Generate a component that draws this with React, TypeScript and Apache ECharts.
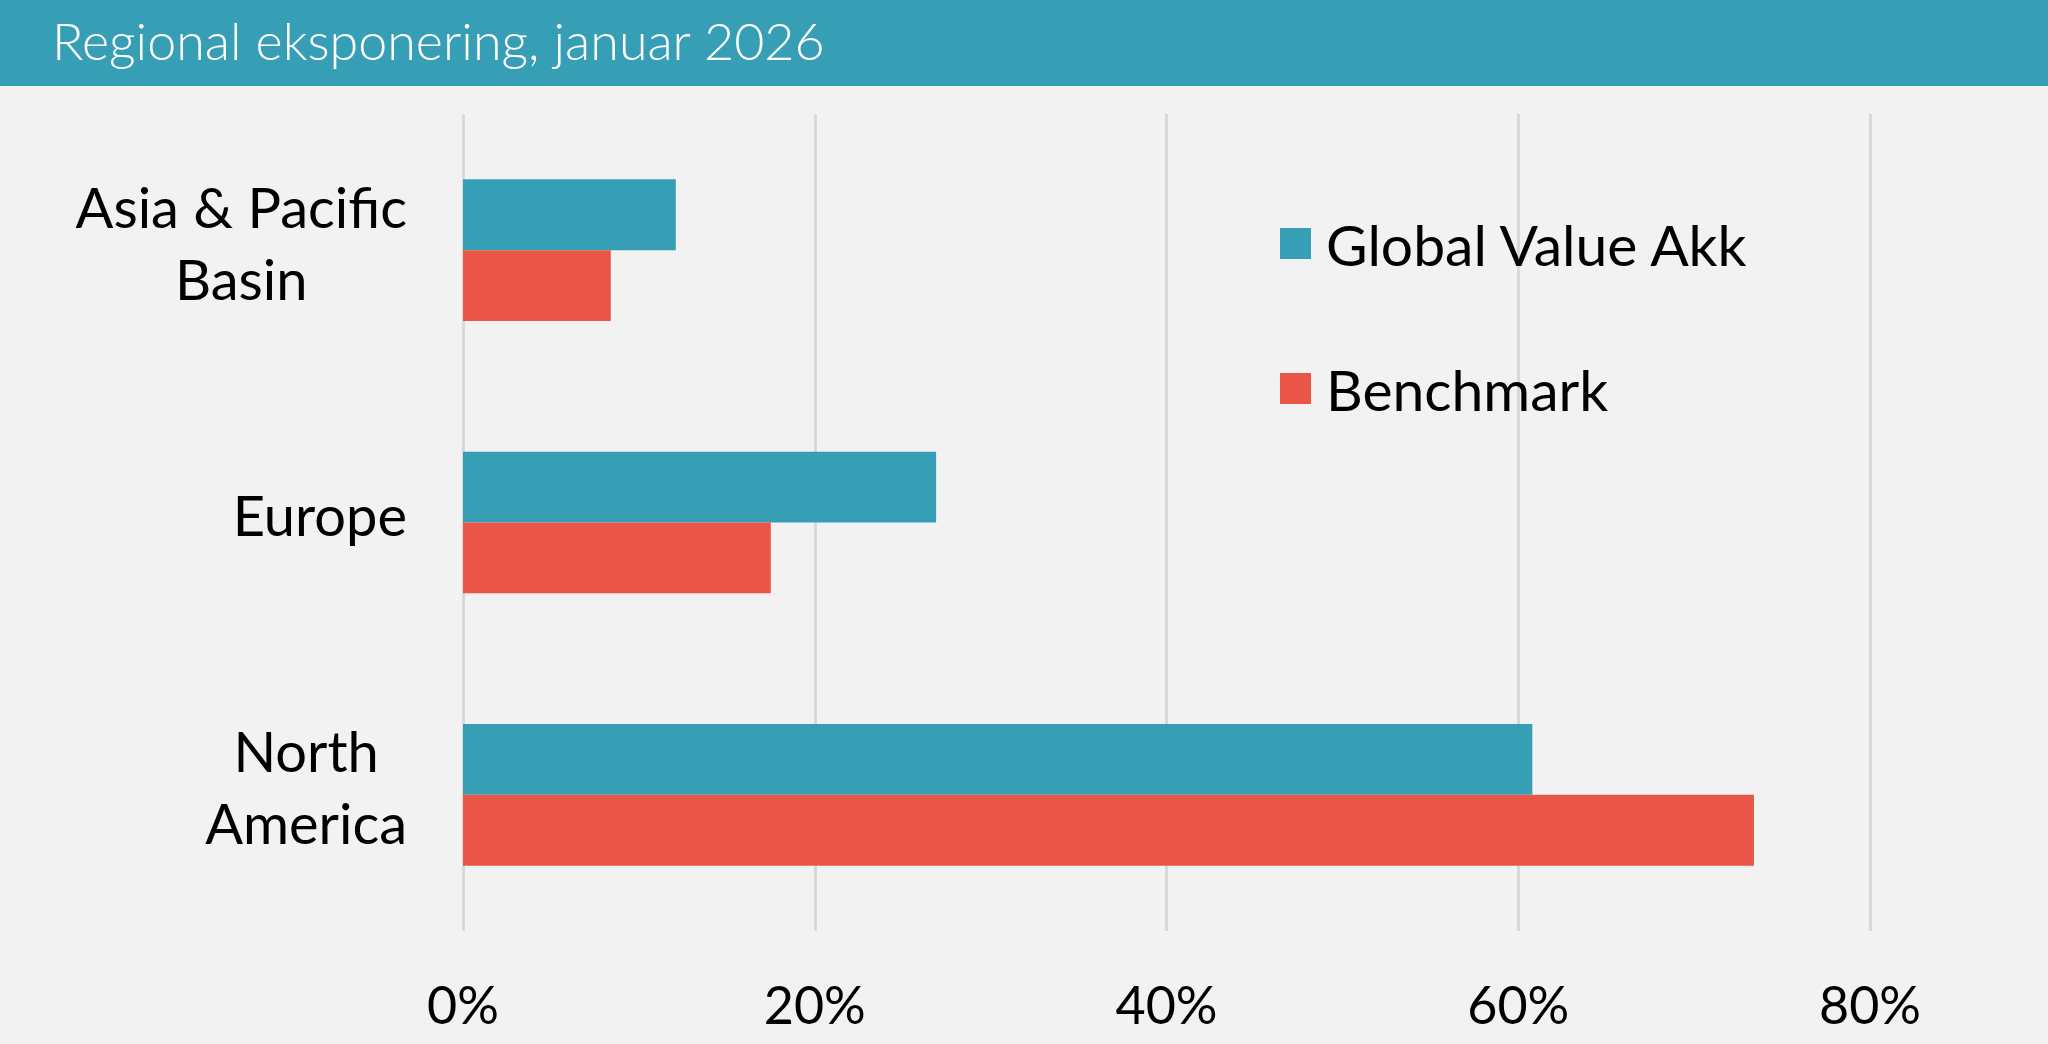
import React, { useEffect, useRef } from 'react';
import * as echarts from 'echarts';

const regions = ['Asia & Pacific\nBasin', 'Europe', 'North\nAmerica'];
const fundShare = [12.1, 26.9, 60.8];
const benchmarkShare = [8.4, 17.5, 73.4];
const xTicks = [0, 20, 40, 60, 80];

const BLUE = '#379fb5';
const RED = '#e95546';
const FONT = 'Lato, "Open Sans", sans-serif';

const App: React.FC = () => {
  const chartRef = useRef<HTMLDivElement>(null);

  useEffect(() => {
    if (!chartRef.current) return;
    const chart = echarts.init(chartRef.current, undefined, { renderer: 'svg' });

    const option: any = {
      animation: false,
      backgroundColor: '#f2f2f2',
      textStyle: { fontFamily: FONT },
      graphic: [
        {
          type: 'rect',
          shape: { x: 0, y: 0, width: 2048, height: 86 },
          style: { fill: BLUE },
          z: -1
        },
        {
          type: 'text',
          left: 52,
          top: 14,
          style: {
            text: 'Regional eksponering, januar 2026',
            fill: '#ffffff',
            fontSize: 52,
            fontFamily: FONT,
            fontWeight: 300
          }
        }
      ],
      legend: {
        orient: 'vertical',
        left: 1280,
        top: 215,
        padding: 0,
        itemWidth: 31,
        itemHeight: 31,
        itemGap: 88,
        icon: 'rect',
        textStyle: {
          color: '#000',
          fontSize: 57,
          lineHeight: 56,
          fontFamily: FONT,
          padding: [0, 0, 0, 10]
        },
        data: ['Global Value Akk', 'Benchmark']
      },
      grid: { left: 463, right: 178, top: 114, bottom: 113, containLabel: false },
      xAxis: {
        type: 'value',
        min: xTicks[0],
        max: xTicks[xTicks.length - 1],
        interval: 20,
        axisLine: { show: false },
        axisTick: { show: false },
        splitLine: { lineStyle: { color: '#d9d9d9', width: 3 } },
        axisLabel: {
          formatter: '{value}%',
          color: '#000',
          fontSize: 52,
          fontFamily: FONT,
          margin: 47
        }
      },
      yAxis: {
        type: 'category',
        inverse: true,
        data: regions,
        axisLine: { show: false },
        axisTick: { show: false },
        axisLabel: {
          margin: 56,
          formatter: (v: string) => `{c|${v}}`,
          rich: {
            c: {
              align: 'center',
              color: '#000',
              fontSize: 56,
              lineHeight: 72,
              fontFamily: FONT,
              padding: [0, 0, 16, 0]
            }
          }
        }
      },
      series: [
        {
          name: 'Global Value Akk',
          type: 'bar',
          data: fundShare,
          itemStyle: { color: BLUE },
          barGap: '0%',
          barCategoryGap: '48%'
        },
        {
          name: 'Benchmark',
          type: 'bar',
          data: benchmarkShare,
          itemStyle: { color: RED },
          barGap: '0%',
          barCategoryGap: '48%'
        }
      ]
    };

    chart.setOption(option);
    return () => chart.dispose();
  }, []);

  return (
    <div style={{ position: 'fixed', left: 0, top: 0, width: 2048, height: 1044 }}>
      <div ref={chartRef} style={{ width: '100%', height: '100%' }} />
    </div>
  );
};

export default App;
